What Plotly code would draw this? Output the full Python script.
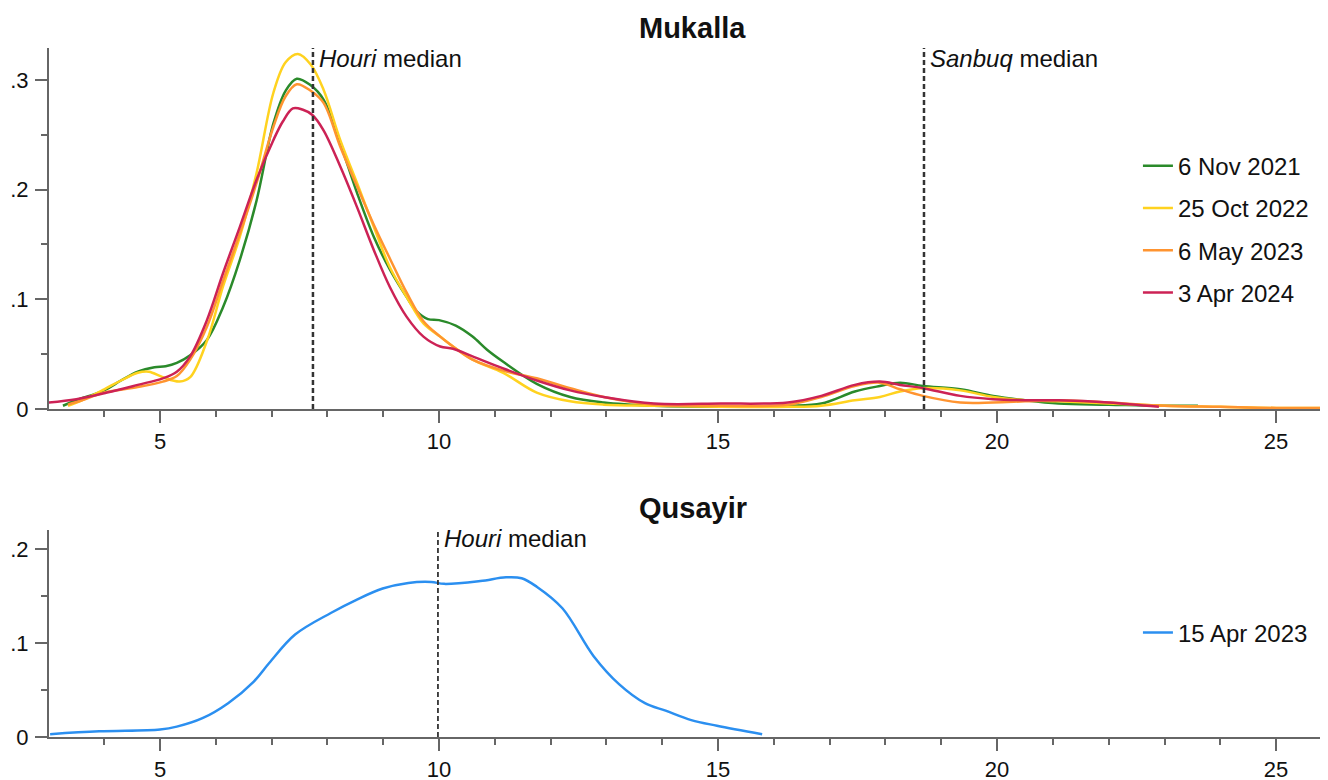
import plotly.graph_objects as go

# ---------------- Data ----------------
# Mukalla: size distribution densities
muk_x_nov21 = [3.26, 3.5, 4.0, 4.3, 4.6, 4.9, 5.1, 5.3, 5.54, 5.84, 6.13, 6.43, 6.73, 7.03, 7.25, 7.45, 7.7, 7.93, 8.23, 8.53,
               8.83, 9.12, 9.42, 9.6, 9.8, 10.0, 10.3, 10.6, 10.86, 11.15, 11.75, 12.35, 12.95, 13.85, 15.05, 16.25, 16.85,
               17.45, 17.9, 18.26, 18.67, 19.34, 19.93, 20.5, 21.1, 22.0, 22.9, 23.6]
muk_y_nov21 = [0.003, 0.008, 0.017, 0.026, 0.034, 0.038, 0.039, 0.042, 0.049, 0.063, 0.093, 0.136, 0.19, 0.26, 0.29, 0.301, 0.295,
               0.282, 0.242, 0.197, 0.157, 0.127, 0.102, 0.089, 0.082, 0.081, 0.076, 0.066, 0.054, 0.043, 0.023, 0.011, 0.006,
               0.003, 0.002, 0.003, 0.005, 0.016, 0.021, 0.024, 0.021, 0.018, 0.012, 0.008, 0.005, 0.004, 0.003, 0.003]

muk_x_oct22 = [3.35, 3.6, 4.0, 4.3, 4.6, 4.8, 5.05, 5.35, 5.54, 5.84, 6.13, 6.43, 6.73, 7.03, 7.25, 7.47, 7.7, 7.93, 8.23, 8.53,
               8.83, 9.12, 9.42, 9.72, 10.02, 10.25, 10.6, 11.15, 11.75, 12.35, 12.95, 13.85, 15.05, 16.25, 16.85, 17.45,
               17.9, 18.26, 18.67, 19.34, 19.93, 20.5, 21.1, 22.0, 23.0, 24.0, 25.0, 26.0]
muk_y_oct22 = [0.003, 0.008, 0.018, 0.026, 0.033, 0.034, 0.029, 0.025, 0.029, 0.062, 0.112, 0.157, 0.215, 0.288, 0.316, 0.3236,
               0.314, 0.291, 0.245, 0.206, 0.166, 0.129, 0.102, 0.078, 0.066, 0.057, 0.045, 0.033, 0.015, 0.007, 0.004, 0.003,
               0.002, 0.002, 0.003, 0.008, 0.011, 0.016, 0.019, 0.017, 0.011, 0.008, 0.007, 0.005, 0.003, 0.002, 0.001, 0.001]

muk_x_may23 = [3.35, 3.6, 4.0, 4.6, 5.05, 5.3, 5.54, 5.84, 6.13, 6.43, 6.73, 7.03, 7.25, 7.45, 7.7, 7.93, 8.23, 8.53, 8.83, 9.12,
               9.42, 9.72, 10.02, 10.25, 10.6, 11.15, 11.75, 12.35, 12.95, 13.85, 15.05, 16.25, 16.85, 17.45, 17.9, 18.26,
               18.67, 19.34, 19.93, 20.5, 21.1, 22.0, 23.0, 24.0, 25.0, 26.0]
muk_y_may23 = [0.004, 0.008, 0.015, 0.020, 0.025, 0.030, 0.045, 0.075, 0.117, 0.160, 0.206, 0.257, 0.285, 0.296, 0.29, 0.279,
               0.239, 0.203, 0.168, 0.137, 0.106, 0.080, 0.066, 0.057, 0.045, 0.035, 0.028, 0.019, 0.011, 0.004, 0.003, 0.004,
               0.011, 0.021, 0.024, 0.018, 0.012, 0.006, 0.006, 0.007, 0.008, 0.006, 0.003, 0.002, 0.001, 0.001]

muk_x_apr24 = [3.0, 3.5, 4.05, 4.6, 5.05, 5.3, 5.54, 5.84, 6.13, 6.43, 6.73, 7.03, 7.2, 7.38, 7.55, 7.73, 7.93, 8.23, 8.53, 8.83,
               9.12, 9.42, 9.72, 10.02, 10.25, 10.6, 11.15, 11.75, 12.35, 12.95, 13.85, 15.05, 16.25, 16.85, 17.45, 17.9,
               18.26, 18.67, 19.34, 19.93, 20.5, 21.1, 22.0, 22.9]
muk_y_apr24 = [0.006, 0.009, 0.015, 0.022, 0.028, 0.034, 0.048, 0.081, 0.124, 0.166, 0.209, 0.245, 0.262, 0.274, 0.273, 0.268,
               0.254, 0.221, 0.184, 0.145, 0.111, 0.084, 0.066, 0.057, 0.055, 0.048, 0.037, 0.026, 0.017, 0.011, 0.005, 0.005,
               0.006, 0.012, 0.022, 0.025, 0.022, 0.019, 0.012, 0.009, 0.008, 0.008, 0.006, 0.002]

# Qusayir
qus_x_apr23 = [3.03, 3.91, 5.0, 5.3, 5.76, 6.22, 6.68, 6.96, 7.42, 8.06, 8.52, 8.99, 9.45, 9.86, 10.09, 10.74, 11.2, 11.48,
               11.75, 12.21, 12.77, 13.23, 13.69, 14.06, 14.52, 14.98, 15.79]
qus_y_apr23 = [0.003, 0.006, 0.008, 0.011, 0.020, 0.036, 0.059, 0.079, 0.109, 0.132, 0.146, 0.158, 0.164, 0.165, 0.163, 0.166,
               0.170, 0.169, 0.160, 0.137, 0.086, 0.056, 0.036, 0.028, 0.018, 0.012, 0.003]

muk_series = ["6 Nov 2021", "25 Oct 2022", "6 May 2023", "3 Apr 2024"]
qus_series = ["15 Apr 2023"]
muk_colors = ["#2a8a2a", "#ffd21f", "#ff9430", "#cc2255"]
qus_color = "#2b8ff0"

muk_houri_median = 7.74
muk_sanbuq_median = 18.69
qus_houri_median = 9.98

x_ticks = [5, 10, 15, 20, 25]
muk_y_ticks = [0, 0.1, 0.2, 0.3]
muk_y_ticktext = ["0", ".1", ".2", ".3"]
qus_y_ticks = [0, 0.1, 0.2]
qus_y_ticktext = ["0", ".1", ".2"]

# ---------------- Figure ----------------
FONT = "Liberation Sans, Arial, sans-serif"
TXT = "#111"
AX = "#666"
fig = go.Figure()

muk_xs = [muk_x_nov21, muk_x_oct22, muk_x_may23, muk_x_apr24]
muk_ys = [muk_y_nov21, muk_y_oct22, muk_y_may23, muk_y_apr24]
for name, xs, ys, c in zip(muk_series, muk_xs, muk_ys, muk_colors):
    fig.add_trace(go.Scatter(x=xs, y=ys, mode="lines", name=name, legendgroup=name,
                             line=dict(color=c, width=2.5, shape="spline", smoothing=1.0),
                             xaxis="x", yaxis="y", legend="legend"))

fig.add_trace(go.Scatter(x=qus_x_apr23, y=qus_y_apr23, mode="lines", name=qus_series[0],
                         line=dict(color=qus_color, width=2.5, shape="spline", smoothing=1.0),
                         xaxis="x2", yaxis="y2", legend="legend2"))

axis_common = dict(showgrid=False, zeroline=False, showline=True, linecolor=AX, linewidth=2,
                   ticks="outside", tickcolor=AX, tickwidth=2, ticklen=12, automargin=False,
                   tickfont=dict(family=FONT, size=22, color=TXT))
xminor = dict(dtick=1, tick0=0, ticks="outside", ticklen=6, tickcolor=AX, tickwidth=2)
yminor = dict(dtick=0.05, tick0=0, ticks="outside", ticklen=6, tickcolor=AX, tickwidth=2)
xr = [3.01, 25.93]
fig.update_layout(
    width=1328, height=780,
    margin=dict(l=41, r=8, t=40, b=51),
    paper_bgcolor="white", plot_bgcolor="white",
    font=dict(family=FONT, size=22, color=TXT),
    xaxis=dict(domain=[0, 1], range=xr, tickvals=x_ticks, anchor="y", ticklabelstandoff=0,
               minor=xminor, **axis_common),
    yaxis=dict(domain=[0.476, 1], range=[0, 0.329], tickvals=muk_y_ticks, ticktext=muk_y_ticktext, anchor="x",
               ticklabelstandoff=2, minor=yminor, **axis_common),
    xaxis2=dict(domain=[0, 1], range=xr, tickvals=x_ticks, anchor="y2", ticklabelstandoff=0,
                minor=xminor, **axis_common),
    yaxis2=dict(domain=[0, 0.300], range=[0, 0.220], tickvals=qus_y_ticks, ticktext=qus_y_ticktext, anchor="x2",
                ticklabelstandoff=2, minor=yminor, **axis_common),
    legend=dict(x=0.8514, y=0.737, xanchor="left", yanchor="middle", traceorder="grouped", tracegroupgap=8,
                bgcolor="rgba(0,0,0,0)", font=dict(family=FONT, size=24, color=TXT)),
    legend2=dict(x=0.8514, y=0.151, xanchor="left", yanchor="middle",
                 bgcolor="rgba(0,0,0,0)", font=dict(family=FONT, size=24, color=TXT)),
)

# Median lines
for xv, xa, ya, w in [(muk_houri_median, "x", "y", 2.5), (muk_sanbuq_median, "x", "y", 2.5),
                      (qus_houri_median, "x2", "y2", 1.8)]:
    fig.add_shape(type="line", xref=xa, yref=ya + " domain", x0=xv, x1=xv, y0=0, y1=1,
                  line=dict(color="#333", width=w, dash="5px,3px"))

for xv, label, xa, ya, ys in [(muk_houri_median, "<i>Houri</i> median", "x", "y", -10),
                              (muk_sanbuq_median, "<i>Sanbuq</i> median", "x", "y", -10),
                              (qus_houri_median, "<i>Houri</i> median", "x2", "y2", -8)]:
    fig.add_annotation(x=xv, y=1, xref=xa, yref=ya + " domain", text=label, showarrow=False,
                       xanchor="left", yanchor="middle", xshift=4, yshift=ys,
                       font=dict(family=FONT, size=24, color=TXT))

# Panel titles
fig.add_annotation(text="<b>Mukalla</b>", x=0.5035, y=1.029, xref="paper", yref="paper", yanchor="middle",
                   showarrow=False, font=dict(family=FONT, size=29, color=TXT))
fig.add_annotation(text="<b>Qusayir</b>", x=0.5035, y=0.3324, xref="paper", yref="paper", yanchor="middle",
                   showarrow=False, font=dict(family=FONT, size=29, color=TXT))

fig.write_html("out.html")
